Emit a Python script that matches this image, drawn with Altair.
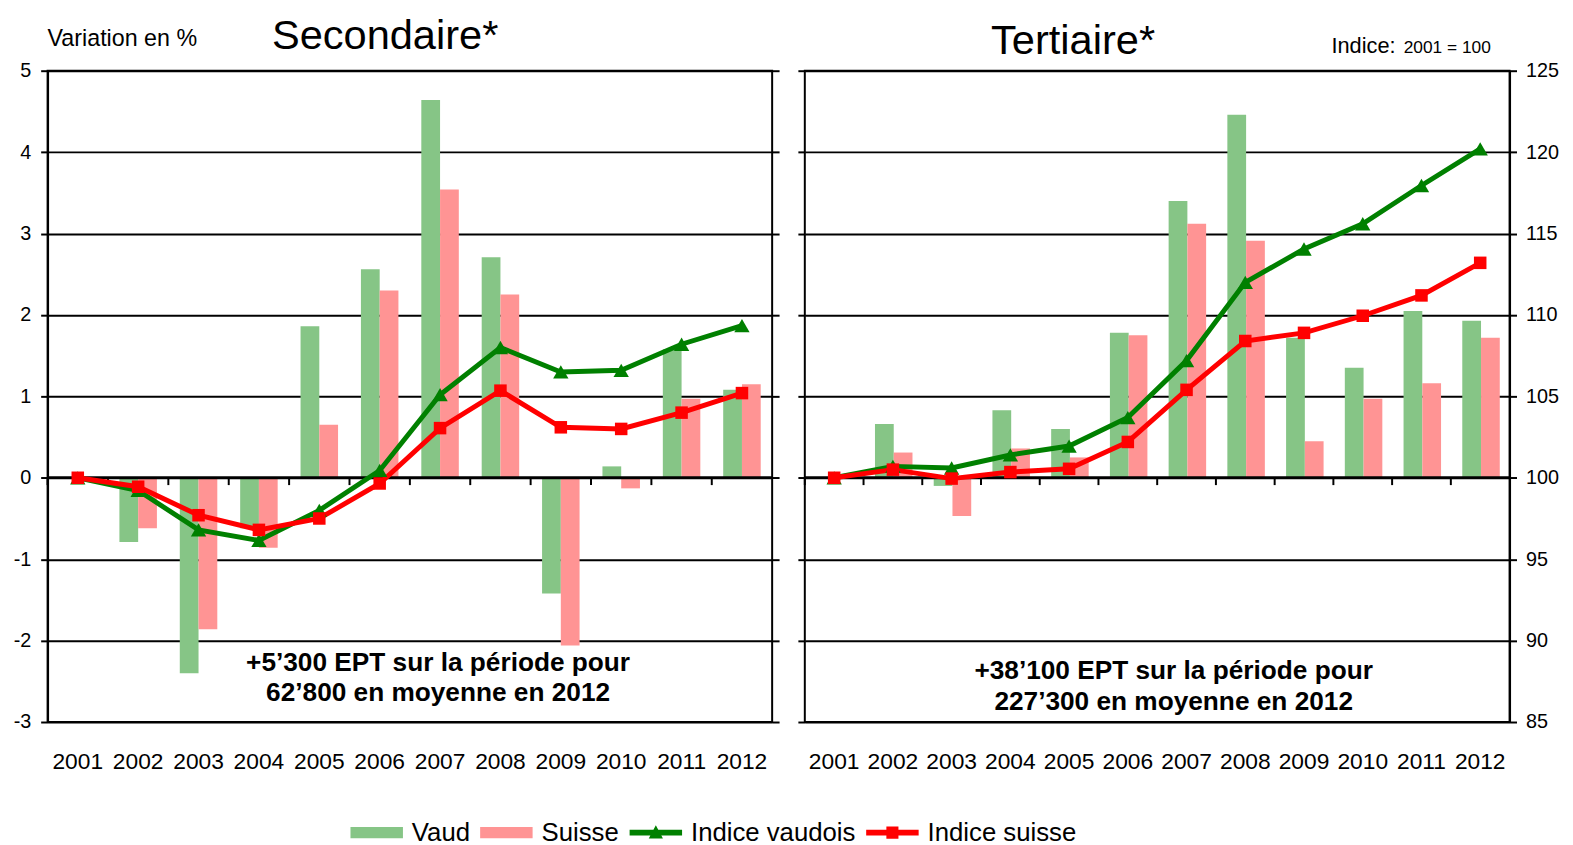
import altair as alt
import pandas as pd

FONT = "Liberation Sans"

years = [str(y) for y in range(2001, 2013)]

# Secondaire : variation annuelle en %
sec_vaud = [0.0, -0.79, -2.40, -0.62, 1.86, 2.56, 4.64, 2.71, -1.42, 0.14, 1.58, 1.08]
sec_suisse = [0.0, -0.62, -1.86, -0.86, 0.65, 2.30, 3.54, 2.25, -2.06, -0.13, 0.97, 1.15]
# Secondaire : indices (2001 = 100)
sec_idx_vaud = [100.0, 99.22, 96.8, 96.15, 98.0, 100.45, 105.1, 108.0, 106.5, 106.6, 108.2, 109.35]
sec_idx_suisse = [100.0, 99.45, 97.7, 96.8, 97.5, 99.65, 103.05, 105.35, 103.1, 103.0, 104.0, 105.2]

# Tertiaire : variation annuelle en %
ter_vaud = [0.0, 0.66, -0.10, 0.83, 0.60, 1.78, 3.40, 4.46, 1.72, 1.35, 2.05, 1.93]
ter_suisse = [0.0, 0.31, -0.47, 0.36, 0.25, 1.75, 3.12, 2.91, 0.45, 0.97, 1.16, 1.72]
# Tertiaire : indices (2001 = 100)
ter_idx_vaud = [100.0, 100.7, 100.6, 101.4, 101.95, 103.7, 107.2, 112.0, 114.05, 115.6, 117.95, 120.2]
ter_idx_suisse = [100.0, 100.5, 99.95, 100.35, 100.55, 102.2, 105.4, 108.4, 108.9, 109.95, 111.2, 113.2]

series = ["Vaud", "Suisse", "Indice vaudois", "Indice suisse"]
colors = ["#86c586", "#ff9494", "#008000", "#ff0000"]

pct_ticks = list(range(-3, 6))
idx_ticks = list(range(85, 126, 5))

sec_note = ["+5\u2019300 EPT sur la p\u00e9riode pour", "62\u2019800 en moyenne en 2012"]
ter_note = ["+38\u2019100 EPT sur la p\u00e9riode pour", "227\u2019300 en moyenne en 2012"]

W1, W2, H = 732, 712, 658

BAR_PATH = "M-1,-0.21L1,-0.21L1,0.21L-1,0.21Z"
TRI_PATH = "M-1,-0.11L1,-0.11L1,0.11L-1,0.11ZM-0.27,0.22L0,-0.28L0.27,0.22Z"
SQ_PATH = "M-1,-0.11L1,-0.11L1,0.11L-1,0.11ZM-0.23,-0.23L0.23,-0.23L0.23,0.23L-0.23,0.23Z"

shape_expr = ("(datum.value === 'Vaud' || datum.value === 'Suisse') ? '" + BAR_PATH +
              "' : (datum.value === 'Indice vaudois' ? '" + TRI_PATH + "' : '" + SQ_PATH + "')")
fill_expr = ("datum.value === 'Vaud' ? '" + colors[0] + "' : (datum.value === 'Suisse' ? '" + colors[1] +
             "' : (datum.value === 'Indice vaudois' ? '" + colors[2] + "' : '" + colors[3] + "'))")

legend = alt.Legend(
    title=None, orient="none", legendX=306, legendY=743, direction="horizontal", columns=4,
    labelFont=FONT, labelFontSize=26, labelColor="black", labelOffset=9, columnPadding=10,
    labelLimit=400,
    symbolSize=2809, symbolStrokeWidth=0, symbolOpacity=1,
    symbolType={"expr": shape_expr},
    symbolFillColor={"expr": fill_expr},
)

color_enc = alt.Color("serie:N", scale=alt.Scale(domain=series, range=colors), legend=legend)


def make_panel(vaud, suisse, idx_v, idx_s, note, width, left_side, title_txt, title_x, title_base):
    bars = pd.DataFrame({
        "year": years * 2,
        "serie": ["Vaud"] * 12 + ["Suisse"] * 12,
        "pct": vaud + suisse,
    })
    lines = pd.DataFrame({
        "year": years * 2,
        "serie": ["Indice vaudois"] * 12 + ["Indice suisse"] * 12,
        "idx": idx_v + idx_s,
    })
    yrs = pd.DataFrame({"year": years})

    x = alt.X("year:N", sort=years, scale=alt.Scale(paddingInner=0, paddingOuter=0),
              axis=alt.Axis(title=None, labelAngle=0, labelFont=FONT, labelFontSize=23,
                            labelColor="black", labelPadding=29, ticks=False, domain=False,
                            grid=False))

    pct_scale = alt.Scale(domain=[-3, 5], nice=False, zero=False)
    if left_side:
        pct_axis = alt.Axis(values=pct_ticks, title=None, orient="left", grid=True, gridColor="black",
                            gridWidth=2, gridOpacity=1, domain=True, domainColor="black", domainWidth=2,
                            ticks=True, tickColor="black", tickWidth=2, tickSize=7, labelFont=FONT,
                            labelFontSize=20, labelColor="black", labelPadding=10,
                            labelExpr="'' + datum.value")
    else:
        pct_axis = alt.Axis(values=pct_ticks, title=None, orient="left", grid=False, domain=False,
                            ticks=True, tickColor="black", tickWidth=2, tickSize=7, labels=False)

    bar_layer = alt.Chart(bars).mark_bar().encode(
        x=x,
        xOffset=alt.XOffset("serie:N", sort=["Vaud", "Suisse"],
                            scale=alt.Scale(paddingInner=0, paddingOuter=0.61)),
        y=alt.Y("pct:Q", scale=pct_scale, axis=pct_axis),
        color=color_enc,
    )
    zero_rule = alt.Chart(pd.DataFrame({"v": [0]})).mark_rule(color="black", strokeWidth=3).encode(
        y=alt.Y("v:Q")
    )
    xticks = alt.Chart(yrs).mark_rule(color="black", strokeWidth=2).encode(
        x=alt.X("year:N", sort=years, bandPosition=0),
        y=alt.datum(0),
        y2=alt.datum(-0.09),
    )
    dx = -2 if left_side else -13
    n1 = alt.Chart(pd.DataFrame({"t": [note[0]]})).mark_text(
        font=FONT, fontSize=26.5, fontWeight="bold", color="black", dx=dx
    ).encode(x=alt.datum("2007"), y=alt.datum(-2.27 if left_side else -2.37), text="t:N")
    n2 = alt.Chart(pd.DataFrame({"t": [note[1]]})).mark_text(
        font=FONT, fontSize=26.5, fontWeight="bold", color="black", dx=dx
    ).encode(x=alt.datum("2007"), y=alt.datum(-2.64 if left_side else -2.75), text="t:N")

    title = alt.Chart(pd.DataFrame({"t": [title_txt]})).mark_text(
        font=FONT, fontSize=42, color="black", align="center", baseline="alphabetic"
    ).encode(x=alt.value(title_x), y=alt.value(title_base), text="t:N")

    pct_layers = [bar_layer, zero_rule, xticks, n1, n2, title]
    if left_side:
        sub = alt.Chart(pd.DataFrame({"t": ["Variation en %"]})).mark_text(
            font=FONT, fontSize=23.5, color="black", align="left", baseline="alphabetic"
        ).encode(x=alt.value(0), y=alt.value(-25), text="t:N")
        pct_layers.append(sub)
    else:
        s1 = alt.Chart(pd.DataFrame({"t": ["Indice:"]})).mark_text(
            font=FONT, fontSize=22, color="black", align="left", baseline="alphabetic"
        ).encode(x=alt.value(532), y=alt.value(-18), text="t:N")
        s2 = alt.Chart(pd.DataFrame({"t": ["2001 = 100"]})).mark_text(
            font=FONT, fontSize=17.5, color="black", align="left", baseline="alphabetic"
        ).encode(x=alt.value(605), y=alt.value(-18), text="t:N")
        pct_layers += [s1, s2]

    pct_layer = alt.layer(*pct_layers)

    idx_scale = alt.Scale(domain=[85, 125], nice=False, zero=False)
    if left_side:
        idx_axis = alt.Axis(values=idx_ticks, title=None, orient="right", labels=False, ticks=True,
                            tickSize=7, tickColor="black", tickWidth=2, domain=False, grid=False)
    else:
        idx_axis = alt.Axis(values=idx_ticks, title=None, orient="right", labels=True, ticks=True,
                            tickSize=7, tickColor="black", tickWidth=2, domain=True, domainColor="black",
                            domainWidth=2, grid=True, gridColor="black", gridWidth=2, gridOpacity=1,
                            labelFont=FONT, labelFontSize=20, labelColor="black", labelPadding=9)

    line_layer = alt.Chart(lines).mark_line(strokeWidth=5).encode(
        x=alt.X("year:N", sort=years),
        y=alt.Y("idx:Q", scale=idx_scale, axis=idx_axis),
        color=color_enc,
    )
    pt_layer = alt.Chart(lines).mark_point(filled=True, opacity=1, strokeWidth=0).encode(
        x=alt.X("year:N", sort=years),
        y=alt.Y("idx:Q"),
        color=color_enc,
        shape=alt.Shape("serie:N", scale=alt.Scale(domain=["Indice vaudois", "Indice suisse"],
                                                   range=["triangle-up", "square"]), legend=None),
        size=alt.Size("serie:N", scale=alt.Scale(domain=["Indice vaudois", "Indice suisse"],
                                                 range=[240, 160]), legend=None),
    )
    idx_layer = alt.layer(line_layer, pt_layer)

    return alt.layer(pct_layer, idx_layer).resolve_scale(y="independent").properties(
        width=width, height=H
    )


left = make_panel(sec_vaud, sec_suisse, sec_idx_vaud, sec_idx_suisse, sec_note, W1, True,
                  "Secondaire*", 341, -21.7)
right = make_panel(ter_vaud, ter_suisse, ter_idx_vaud, ter_idx_suisse, ter_note, W2, False,
                   "Tertiaire*", 271, -16.7)

chart = alt.hconcat(left, right, spacing=15).properties(
    padding={"left": 4, "top": 2, "right": 5, "bottom": 5},
    background="white",
).configure(font=FONT).configure_view(stroke="black", strokeWidth=2)

chart.save("out.html", embed_options={"renderer": "svg", "actions": False})
